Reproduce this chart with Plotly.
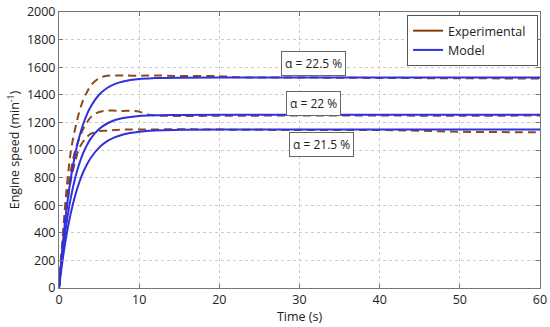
import plotly.graph_objects as go

# Time axis (s)
t_model = [0, 0.5, 1, 1.5, 2, 2.5, 3, 3.5, 4, 5, 6, 7, 8, 10, 12, 15, 20, 30, 40, 50, 60]
model_225 = [0, 337, 600, 805, 964, 1088, 1185, 1260, 1319, 1400, 1449, 1479, 1497, 1515, 1521, 1524, 1525, 1525, 1525, 1525, 1525]
model_22 = [0, 277, 493, 662, 793, 895, 975, 1037, 1086, 1152, 1192, 1217, 1232, 1247, 1252, 1254, 1255, 1255, 1255, 1255, 1255]
model_215 = [0, 224, 405, 550, 667, 761, 837, 897, 946, 1017, 1064, 1093, 1113, 1133, 1142, 1146, 1148, 1148, 1148, 1148, 1148]

t_exp_225 = [0, 0.5, 1, 1.5, 2, 2.5, 3, 3.5, 4, 5, 6, 7, 8, 10, 12, 15, 20, 22, 25, 30, 40, 50, 60]
exp_225 = [0, 400, 750, 1000, 1150, 1270, 1360, 1420, 1470, 1520, 1538, 1540, 1540, 1538, 1540, 1536, 1535, 1528, 1525, 1525, 1522, 1520, 1518]

t_exp_22 = [0, 0.5, 1, 1.5, 2, 2.5, 3, 3.5, 4, 5, 6, 7, 8, 9, 10, 11, 12, 15, 20, 30, 40, 50, 60]
exp_22 = [0, 350, 650, 860, 990, 1080, 1150, 1200, 1240, 1275, 1285, 1285, 1283, 1285, 1278, 1258, 1250, 1247, 1248, 1250, 1250, 1248, 1250]

t_exp_215 = [0, 0.5, 1, 1.5, 2, 2.5, 3, 3.5, 4, 5, 6, 7, 8, 10, 15, 20, 30, 40, 45, 50, 55, 60]
exp_215 = [0, 320, 600, 790, 910, 1010, 1060, 1095, 1118, 1138, 1140, 1145, 1148, 1148, 1150, 1148, 1145, 1145, 1140, 1132, 1130, 1128]

labels = ["α = 22.5 %", "α = 22 %", "α = 21.5 %"]
label_x = [31.8, 31.8, 32.8]
label_y = [1630, 1340, 1043]

exp_color = "#8B4A1C"
model_color = "#3030E0"

fig = go.Figure()
for tx, ey in [(t_exp_225, exp_225), (t_exp_22, exp_22), (t_exp_215, exp_215)]:
    fig.add_trace(go.Scatter(x=tx, y=ey, mode="lines", line=dict(color=exp_color, width=2, dash="8px,5px", shape="spline"),
                             name="Experimental", showlegend=False))
for my in [model_225, model_22, model_215]:
    fig.add_trace(go.Scatter(x=t_model, y=my, mode="lines", line=dict(color=model_color, width=2, shape="spline"),
                             name="Model", showlegend=False))
# legend entries
fig.add_trace(go.Scatter(x=[None], y=[None], mode="lines", line=dict(color="#8B3A0A", width=2), name="Experimental  "))
fig.add_trace(go.Scatter(x=[None], y=[None], mode="lines", line=dict(color=model_color, width=2), name="Model"))

for txt, lx, ly in zip(labels, label_x, label_y):
    fig.add_annotation(x=lx, y=ly, text=txt, showarrow=False, bgcolor="white",
                       bordercolor="#666666", borderwidth=1, borderpad=3,
                       font=dict(size=12, color="#222222"))

fig.update_layout(
    width=550, height=327,
    margin=dict(l=59, r=10, t=12, b=39, autoexpand=False),
    paper_bgcolor="white", plot_bgcolor="white",
    font=dict(family="Open Sans, DejaVu Sans, sans-serif", size=12, color="#222222"),
    legend=dict(x=0.996, y=0.989, xanchor="right", yanchor="top", bordercolor="#555555", borderwidth=1,
                bgcolor="white", font=dict(size=12.5), tracegroupgap=0),
)
fig.update_xaxes(range=[0, 60], dtick=10, showgrid=True, gridcolor="#cccccc", griddash="dot",
                 showline=True, linecolor="#777777", linewidth=1, mirror="ticks", ticks="inside",
                 ticklen=4, tickcolor="#777777", zeroline=False, automargin=False,
                 tickfont=dict(size=12.5), ticklabeloverflow="allow",
                 title=dict(text="Time (s)", standoff=2, font=dict(size=12.5)))
fig.update_yaxes(range=[0, 2000], dtick=200, showgrid=True, gridcolor="#cccccc", griddash="dot",
                 showline=True, linecolor="#777777", linewidth=1, mirror="ticks", ticks="inside",
                 ticklen=4, tickcolor="#777777", zeroline=False, automargin=False,
                 tickfont=dict(size=12.5), ticklabeloverflow="allow",
                 title=dict(text="Engine speed (min<sup>-1</sup>)", standoff=4, font=dict(size=12.5)))

# remove the browser's default 8px body margin so the figure fills the window
fig.write_html("out.html", config={"displayModeBar": False},
               post_script="document.body.style.margin='0px';")
